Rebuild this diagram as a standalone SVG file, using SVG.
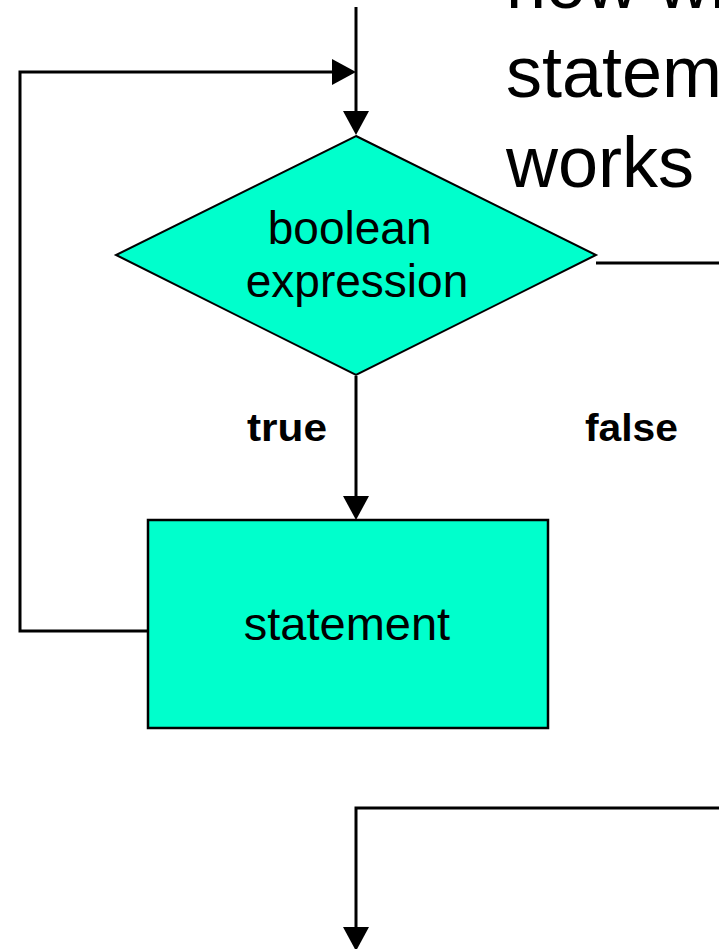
<svg xmlns="http://www.w3.org/2000/svg" width="719" height="949" viewBox="0 0 719 949">
  <style>
    .node { fill: #00FFCC; stroke: #000; }
    .label { font-family: "Liberation Sans", Arial, sans-serif; fill: #000; }
    .edge { fill: none; stroke: #000; stroke-width: 3; }
  </style>
  <defs>
    <marker id="arrow" markerUnits="userSpaceOnUse" markerWidth="24" markerHeight="26" refX="0" refY="13" orient="auto">
      <path d="M0,0 L24,13 L0,26 z" fill="#000"/>
    </marker>
  </defs>

  <rect width="719" height="949" fill="#fff"/>

  <!-- title, running off the right edge -->
  <g id="title">
    <text class="label" x="506" font-size="72">
      <tspan x="506" y="8">how while</tspan>
      <tspan x="506" y="97">statement</tspan>
      <tspan x="506" y="187">works</tspan>
    </text>
  </g>

  <!-- connectors -->
  <g id="connectors">
    <path class="edge" d="M356,7 V111" marker-end="url(#arrow)"/>
    <path class="edge" d="M148,631 H20 V72 H332" marker-end="url(#arrow)"/>
    <path class="edge" d="M356,376 V496" marker-end="url(#arrow)"/>
    <path class="edge" d="M596,263 H745 V808 H356 V927" marker-end="url(#arrow)"/>
  </g>

  <!-- decision -->
  <g id="condition">
    <polygon class="node" stroke-width="2" points="356,136 596,255 356,375 116,255"/>
    <text class="label" font-size="46" text-anchor="middle">
      <tspan x="356" y="244">boolean</tspan>
      <tspan x="357" y="297">expression</tspan>
    </text>
  </g>

  <!-- loop body -->
  <g id="body">
    <rect class="node" stroke-width="2.5" x="148" y="520" width="400" height="208"/>
    <text class="label" font-size="47" text-anchor="middle" x="347" y="640">statement</text>
  </g>

  <!-- branch labels -->
  <g id="branch-labels">
    <text class="label" font-size="39" font-weight="bold" x="247" y="441" textLength="80" lengthAdjust="spacingAndGlyphs">true</text>
    <text class="label" font-size="39" font-weight="bold" x="585" y="441" textLength="93" lengthAdjust="spacingAndGlyphs">false</text>
  </g>
</svg>
